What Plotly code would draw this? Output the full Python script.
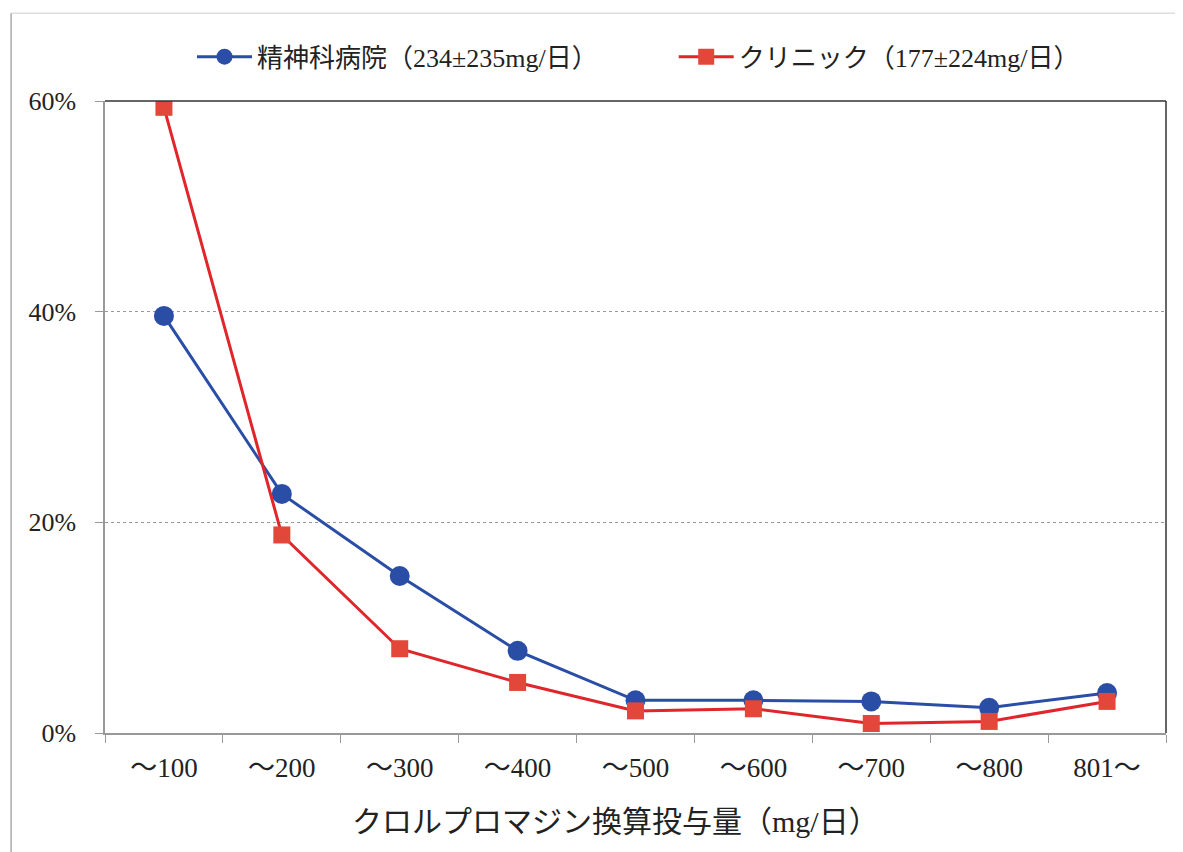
import plotly.graph_objects as go

categories = ["～100", "～200", "～300", "～400", "～500", "～600", "～700", "～800", "801～"]
hospital = [39.6, 22.7, 14.9, 7.8, 3.1, 3.1, 3.0, 2.4, 3.8]
clinic = [59.4, 18.8, 8.0, 4.8, 2.1, 2.3, 0.9, 1.1, 3.0]
hospital_name = "精神科病院（234±235mg/日）"
clinic_name = "クリニック（177±224mg/日）"
y_ticks = [0, 20, 40, 60]
y_labels = ["0%", "20%", "40%", "60%"]
x_title = "クロルプロマジン換算投与量（mg/日）"

FONT = "Liberation Serif, DejaVu Serif, Noto Sans CJK JP"
BLUE = "#2a4da6"
RED = "#e0262b"
RED_M = "#e2473a"
TXT = "#222"

fig = go.Figure()
fig.add_trace(go.Scatter(
    x=categories, y=hospital, name=hospital_name, mode="lines+markers",
    line=dict(color=BLUE, width=3),
    marker=dict(symbol="circle", size=20, color=BLUE),
    legend="legend",
))
fig.add_trace(go.Scatter(
    x=categories, y=clinic, name=clinic_name, mode="lines+markers",
    line=dict(color=RED, width=3),
    marker=dict(symbol="square", size=17, color=RED_M),
    legend="legend2",
))

leg_common = dict(font=dict(size=26, family=FONT, color=TXT), itemwidth=55,
                  bgcolor="rgba(0,0,0,0)", yanchor="middle", xanchor="left")

fig.update_layout(
    width=1175, height=844,
    margin=dict(l=97, r=17, t=93, b=119),
    paper_bgcolor="white", plot_bgcolor="white",
    font=dict(family=FONT, size=25, color=TXT),
    showlegend=True,
    legend=dict(x=0.082, y=1.07, **leg_common),
    legend2=dict(x=0.536, y=1.07, **leg_common),
    xaxis=dict(
        type="category", range=[-0.5, 8.5],
        showline=True, linecolor="#999", linewidth=1.5,
        ticks="outside", tickson="boundaries", ticklen=8, tickcolor="#999",
        showgrid=False, tickfont=dict(size=27, family=FONT, color=TXT),
        ticklabelstandoff=10,
    ),
    yaxis=dict(
        range=[0, 60], tickvals=y_ticks, ticktext=y_labels,
        showline=True, linecolor="#999", linewidth=1.5,
        ticks="outside", ticklen=8, tickcolor="#999",
        showgrid=True, gridcolor="#999", gridwidth=1, griddash="dot",
        zeroline=False, tickfont=dict(size=26, family=FONT, color=TXT),
        ticklabelstandoff=14,
    ),
    annotations=[
        dict(text=x_title, xref="paper", yref="paper", x=0.4807, y=-0.1408,
             xanchor="center", yanchor="middle", showarrow=False,
             font=dict(size=30, family=FONT, color=TXT)),
    ],
    shapes=[
        dict(type="line", xref="paper", yref="paper", x0=0, x1=1, y0=1, y1=1,
             line=dict(color="#333", width=1.5)),
        dict(type="line", xref="paper", yref="paper", x0=1, x1=1, y0=0, y1=1,
             line=dict(color="#333", width=1.5)),
        dict(type="line", xref="paper", yref="paper", x0=-0.0885, x1=-0.0885, y0=-0.2, y1=1.139,
             line=dict(color="#aaa", width=1.5)),
        dict(type="line", xref="paper", yref="paper", x0=-0.0885, x1=1.02, y0=1.139, y1=1.139,
             line=dict(color="#ccc", width=1)),
    ],
)

fig.write_html("out.html")
